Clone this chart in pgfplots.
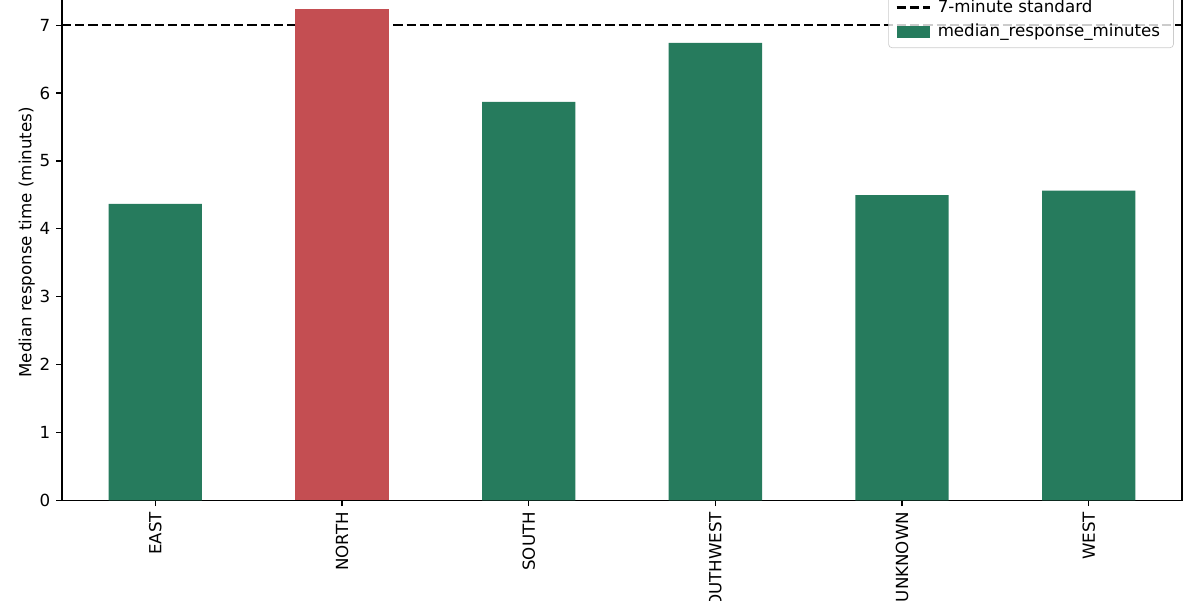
\documentclass[border=0pt]{standalone}
\usepackage{pgfplots}
\pgfplotsset{compat=1.18}
\usepackage{fontspec}
\setmainfont{DejaVu Sans}

\definecolor{barGreen}{HTML}{267B5D}
\definecolor{barRed}{HTML}{C44E52}

\begin{document}
\begin{tikzpicture}
\begin{axis}[
    scale only axis,
    width=672pt,
    height=309.4pt,
    xmin=-0.5, xmax=5.5,
    ymin=0, ymax=7.6,
    ybar, bar width=0.5, bar shift=0pt,
    xtick={0,1,2,3,4,5},
    xticklabels={EAST,NORTH,SOUTH,SOUTHWEST,UNKNOWN,WEST},
    ytick={0,1,2,3,4,5,6,7},
    x tick label style={rotate=90, anchor=east, font=\fontsize{10}{12}\selectfont},
    y tick label style={font=\fontsize{10}{12}\selectfont},
    /pgf/number format/assume math mode=true,
    tick align=outside,
    major tick length=3.5pt,
    tick style={black, line width=0.8pt},
    xtick pos=bottom, ytick pos=left,
    axis line style={black, line width=0.8pt},
    ylabel={Median response time (minutes)},
    ylabel style={font=\fontsize{10}{12}\selectfont, yshift=-4pt},
    legend cell align=left,
    legend style={
        at={(1,1)}, anchor=north east, xshift=-5pt, yshift=-4pt,
        draw=black!20, rounded corners=2pt, fill=white, fill opacity=0.8, text opacity=1,
        font=\fontsize{10}{12}\selectfont,
        inner xsep=4pt, inner ysep=3pt,
        row sep=1.5pt,
        nodes={inner xsep=4pt},
    },
    clip=false,
]
\addplot[black, line width=1.5pt, dash pattern=on 5.55pt off 2.4pt, sharp plot,
    legend image code/.code={\draw[black, line width=1.5pt, dash pattern=on 5.55pt off 2.4pt, sharp corners, draw opacity=1] (0pt,0pt) -- (20pt,0pt);}]
    coordinates {(-0.5,7) (5.5,7)};
\addlegendentry{7-minute standard}
\addplot[fill=barGreen, draw=none,
    legend image code/.code={\fill[barGreen, sharp corners, fill opacity=1] (0pt,-3.5pt) rectangle (20pt,3.5pt);}]
    coordinates {(0,4.366) (2,5.871) (3,6.739) (4,4.498) (5,4.561)};
\addlegendentry{median\_response\_minutes}
\addplot[fill=barRed, draw=none, forget plot]
    coordinates {(1,7.235)};
\coordinate (bbsw) at (axis cs:-0.832,-1.4737);
\coordinate (bbne) at (axis cs:5.596,7.372);
\end{axis}
\pgfresetboundingbox
\useasboundingbox (bbsw) rectangle (bbne);
\end{tikzpicture}
\end{document}
